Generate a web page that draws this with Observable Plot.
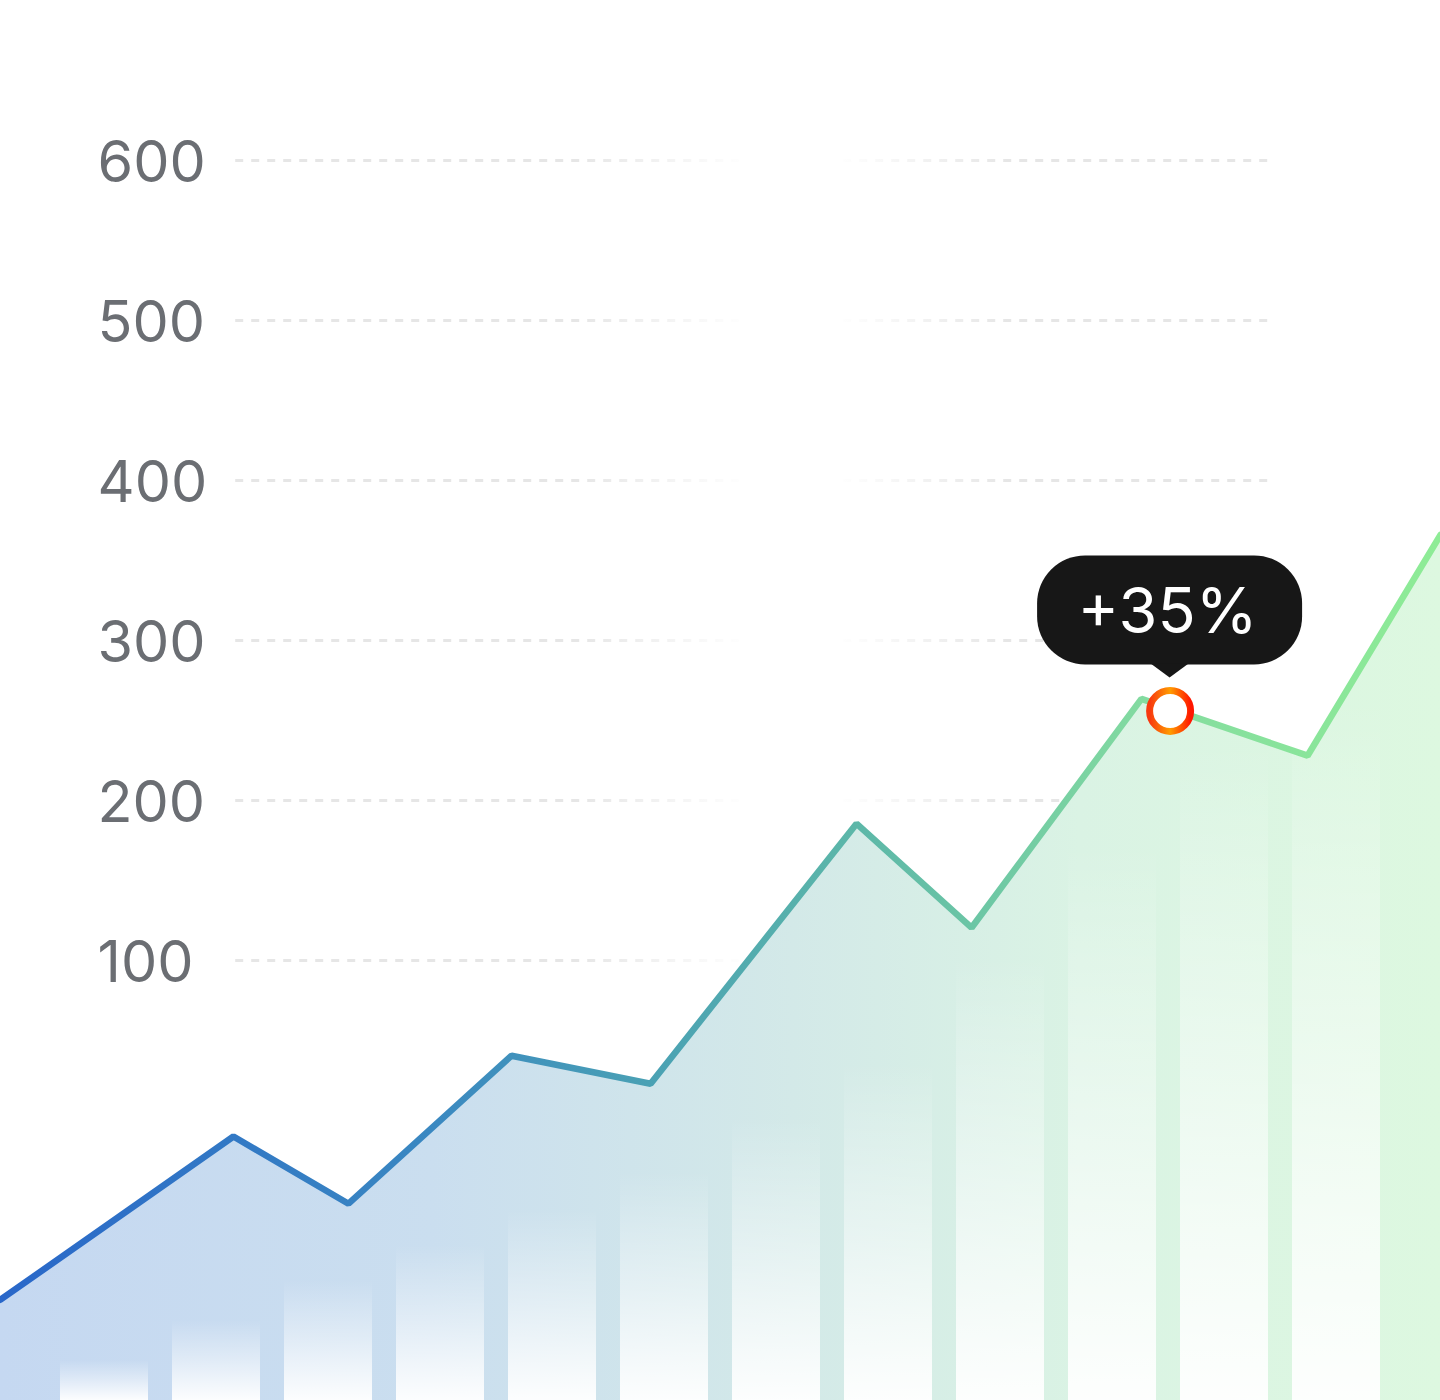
<!DOCTYPE html>
<html>
<head>
<meta charset="utf-8">
<script src="https://cdn.jsdelivr.net/npm/d3@7"></script>
<script src="https://cdn.jsdelivr.net/npm/@observablehq/plot@0.6"></script>
<style>
  html, body { margin: 0; padding: 0; background: #ffffff; }
  #chart svg { display: block; }
</style>
</head>
<body>
<div id="chart"></div>
<script>
// ---- data ----
const weeks  = [0, 14.56, 21.75, 31.94, 40.63, 53.5, 60.69, 71.31, 81.69, 90];
const values = [-112, -10, -52, 40.5, 23, 185.5, 120.5, 263.5, 228, 366];
const yTicks = [100, 200, 300, 400, 500, 600];
const stripeWeeks = [6.5, 13.5, 20.5, 27.5, 34.5, 41.5, 48.5, 55.5, 62.5, 69.5, 76.5, 83.5];
const stripeTops  = [-150, -125, -100, -78, -56, -32, 2, 36, 102, 172, 236, 264];
const highlightWeek = [73.1];
const highlightValue = [256];
const highlightLabel = ["+35%"];

const Y_MIN = -175, Y_MAX = 700, X_MIN = 0, X_MAX = 90;

const series = weeks.map((x, i) => ({x, y: values[i]}));
const stripes = stripeWeeks.map((x, i) => ({x, top: stripeTops[i]}));
const highlight = highlightWeek.map((x, i) => ({x, y: highlightValue[i], label: highlightLabel[i]}));

// custom callout mark positioned through Plot's scales
function calloutMark(data) {
  return function (index, scales) {
    const g = d3.create("svg:g");
    for (const d of data) {
      const cx = scales.x(d.x), cy = scales.y(d.y);
      const w = 265, h = 109, bottom = cy - 46;
      g.append("rect")
        .attr("x", cx - w / 2).attr("y", bottom - h)
        .attr("width", w).attr("height", h)
        .attr("rx", 48).attr("fill", "#171717");
      g.append("path")
        .attr("d", `M${cx - 19},${bottom - 1}L${cx},${bottom + 13}L${cx + 19},${bottom - 1}Z`)
        .attr("fill", "#171717");
      g.append("text")
        .attr("x", cx - 2).attr("y", bottom - h / 2)
        .attr("dy", "0.36em")
        .attr("text-anchor", "middle")
        .attr("fill", "#ffffff")
        .attr("font-family", "Inter, sans-serif")
        .attr("font-size", 63)
        .attr("font-weight", 400)
        .text(d.label);
    }
    return g.node();
  };
}

const chart = Plot.plot({
  width: 1440,
  height: 1400,
  margin: 0,
  x: {domain: [X_MIN, X_MAX], axis: null},
  y: {domain: [Y_MIN, Y_MAX], axis: null},
  style: {background: "#ffffff", fontFamily: "Inter, sans-serif", overflow: "visible"},
  marks: [
    Plot.ruleY(yTicks, {x1: 14.7, x2: 79.25, stroke: "url(#gridGrad)", strokeWidth: 3, strokeDasharray: "8,8"}),
    Plot.areaY(series, {x: "x", y1: Y_MIN, y2: "y", fill: "url(#areaGrad)"}),
    Plot.rectY(stripes, {x1: d => d.x - 2.75, x2: d => d.x + 2.75, y1: Y_MIN, y2: "top", fill: "url(#stripeGrad)"}),
    Plot.text(yTicks, {y: d => d, text: d => String(d), frameAnchor: "left", dx: 97, dy: 3, textAnchor: "start",
                       fontSize: 57.5, fill: "#6b6e73", fontFamily: "Inter, sans-serif"}),
    Plot.line(series, {x: "x", y: "y", stroke: "url(#lineGrad)", strokeWidth: 6.5, strokeLinejoin: "miter"}),
    calloutMark(highlight),
    Plot.dot(highlight, {x: "x", y: "y", r: 20.5, fill: "#ffffff", stroke: "url(#dotGrad)", strokeWidth: 7})
  ]
});

// gradients
const svg = d3.select(chart);
const defs = svg.insert("defs", ":first-child");
const xs = chart.scale("x");
const px0 = xs.apply(X_MIN), px1 = xs.apply(X_MAX);

function linear(id, stops, attrs) {
  const g = defs.append("linearGradient").attr("id", id);
  for (const [k, v] of Object.entries(attrs)) g.attr(k, v);
  for (const s of stops) {
    g.append("stop").attr("offset", s[0]).attr("stop-color", s[1]).attr("stop-opacity", s[2] ?? 1);
  }
}
const userX = {gradientUnits: "userSpaceOnUse", x1: px0, y1: 0, x2: px1, y2: 0};
linear("areaGrad", [[0, "#c5d8f1"], [0.3, "#cadeef"], [0.55, "#d3e9e8"], [0.75, "#daf3e4"], [1, "#ddf8e0"]], userX);
linear("lineGrad", [[0, "#2967c9"], [0.3, "#3a88c1"], [0.45, "#4aa1b4"], [0.6, "#5db8a8"], [0.8, "#84dca0"], [1, "#8eec96"]], userX);
linear("gridGrad", [[0, "#e6e6e6"], [0.40, "#e6e6e6"], [0.52, "#e6e6e6", 0], [0.58, "#e6e6e6", 0], [0.70, "#e6e6e6"], [1, "#e6e6e6"]], userX);
linear("stripeGrad", [[0, "#ffffff", 0], [0.5, "#ffffff", 0.45], [1, "#ffffff", 0.95]], {x1: 0, y1: 0, x2: 0, y2: 1});
linear("dotGrad", [[0, "#f8380f"], [0.5, "#ff9c00"], [1, "#ff1600"]], {x1: 0, y1: 0, x2: 1, y2: 0});

document.getElementById("chart").append(chart);
</script>
</body>
</html>
